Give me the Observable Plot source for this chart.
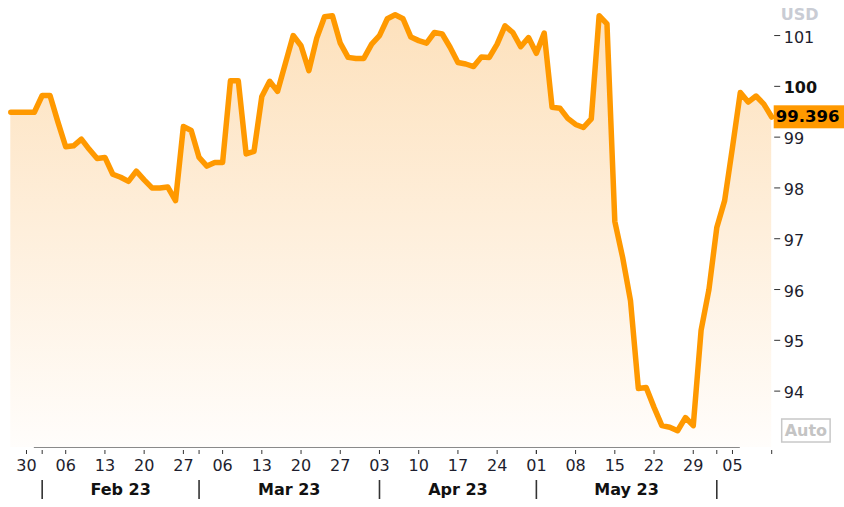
<!DOCTYPE html>
<html><head><meta charset="utf-8">
<script src="https://cdn.jsdelivr.net/npm/d3@7"></script>
<script src="https://cdn.jsdelivr.net/npm/@observablehq/plot@0.6"></script>
<style>html,body{margin:0;padding:0;background:#fff;} svg{display:block;}</style>
</head><body><div id="chart"></div>
<script>
// ---- data ----
const firstDay = "2023-01-26";
const lastDay = "2023-06-12";
const values = [
  99.49, 99.49, 99.49, 99.49, 99.82, 99.82, 99.30, 98.81, 98.83, 98.96,
  98.76, 98.58, 98.60, 98.27, 98.21, 98.13, 98.33, 98.16, 98.00, 98.00,
  98.02, 97.75, 99.21, 99.13, 98.60, 98.43, 98.50, 98.50, 100.11, 100.11,
  98.67, 98.72, 99.80, 100.10, 99.90, 100.45, 101.00, 100.80, 100.31, 100.95,
  101.37, 101.39, 100.85, 100.57, 100.55, 100.55, 100.83, 101.00, 101.33, 101.41,
  101.33, 100.97, 100.90, 100.85, 101.06, 101.03, 100.77, 100.47, 100.44, 100.39,
  100.58, 100.57, 100.83, 101.19, 101.06, 100.78, 100.96, 100.65, 101.05, 99.59,
  99.57, 99.37, 99.25, 99.19, 99.36, 101.39, 101.23, 97.34, 96.63, 95.78,
  94.05, 94.07, 93.68, 93.32, 93.29, 93.22, 93.48, 93.32, 95.20, 96.00,
  97.22, 97.75, 98.80, 99.88, 99.69, 99.81, 99.65, 99.396
];
const dayTicks = ["2023-01-30","2023-02-06","2023-02-13","2023-02-20","2023-02-27",
  "2023-03-06","2023-03-13","2023-03-20","2023-03-27","2023-04-03","2023-04-10",
  "2023-04-17","2023-04-24","2023-05-01","2023-05-08","2023-05-15","2023-05-22",
  "2023-05-29","2023-06-05"];
const monthStarts = ["2023-02-01","2023-03-01","2023-04-03","2023-05-01","2023-06-01"];
const monthLabels = ["Feb 23","Mar 23","Apr 23","May 23"];
const yTicks = [94, 95, 96, 97, 98, 99, 101];
const yBoldTicks = [100];
const yDomain = [92.89, 101.69];
const unitLabel = "USD";
const lastLabel = "99.396";
const autoLabel = "Auto";

// ---- derived ----
const days = d3.utcDays(new Date(firstDay), d3.utcDay.offset(new Date(lastDay), 1))
  .filter(d => d.getUTCDay() !== 0 && d.getUTCDay() !== 6);
const idx = s => days.findIndex(d => +d === +new Date(s));
const data = days.map((d, i) => ({i, date: d, v: values[i]}));
const last = data[data.length - 1];
const dayIdx = dayTicks.map(idx);
const monthIdx = monthStarts.map(idx);
const monthMid = monthLabels.map((_, k) => (monthIdx[k] + monthIdx[k + 1]) / 2);
const monthMap = new Map(monthMid.map((m, k) => [m, monthLabels[k]]));
const fmtDay = d3.utcFormat("%d");

const font = "DejaVu Sans, Verdana, sans-serif";
const W = 844, H = 507;

const chart = Plot.plot({
  width: W, height: H,
  marginTop: 0, marginBottom: 60, marginLeft: 10.3, marginRight: 72.8,
  style: {fontFamily: font, fontSize: "16px", background: "#fff", overflow: "visible"},
  x: {type: "linear", domain: [0, data.length - 1], axis: null},
  y: {domain: yDomain, axis: null},
  marks: [
    Plot.areaY(data, {x: "i", y1: () => yDomain[0], y2: "v", fill: "url(#fillGrad)"}),
    Plot.lineY(data, {x: "i", y: "v", stroke: "#ff9900", strokeWidth: 5.5, strokeLinejoin: "round", strokeLinecap: "round"}),
    // bottom axis line
    Plot.ruleY([yDomain[0]], {x1: idx("2023-01-31"), x2: idx("2023-06-06"), stroke: "#8a8a8a", strokeWidth: 1.2}),
    // day ticks + labels
    Plot.axisX({anchor: "bottom", ticks: dayIdx, tickSize: 4, tickPadding: 5, dy: 3,
      tickFormat: i => fmtDay(days[i]), fill: "#1e1e2e", stroke: "#333", label: null}),
    // minor ticks at month starts and last point
    Plot.axisX({anchor: "bottom", ticks: [...monthIdx, last.i], tickSize: 4, dy: 3,
      tickFormat: () => "", stroke: "#333", label: null}),
    // month separators
    Plot.axisX({anchor: "bottom", ticks: monthIdx, tickSize: 19, dy: 33,
      tickFormat: () => "", stroke: "#333", strokeWidth: 1.6, label: null}),
    // month labels
    Plot.axisX({anchor: "bottom", ticks: monthMid, tickSize: 0, tickPadding: 0, dy: 36,
      tickFormat: d => monthMap.get(d), fontWeight: "bold", fill: "#111", label: null}),
    // y ticks
    Plot.axisY({anchor: "right", ticks: [...yTicks, ...yBoldTicks], tickSize: 6, dx: 2,
      tickFormat: () => "", stroke: "#333", label: null}),
    Plot.axisY({anchor: "right", ticks: yTicks, tickSize: 0, tickPadding: 12, dy: 2,
      fill: "#1e1e2e", label: null}),
    Plot.axisY({anchor: "right", ticks: yBoldTicks, tickSize: 0, tickPadding: 12, dy: 2,
      fill: "#111", fontWeight: "bold", label: null}),
    // last value label
    Plot.text([last], {x: "i", y: "v", text: () => lastLabel, textAnchor: "start", dx: 4,
      fill: "#000", fontWeight: "bold", fontSize: 16.5}),
    // unit and auto
    Plot.text([unitLabel], {frameAnchor: "top-right", textAnchor: "start", dx: 9, dy: 8,
      fill: "#c9ccd4", fontWeight: "bold", fontSize: 16}),
    Plot.text([autoLabel], {frameAnchor: "bottom-right", textAnchor: "start", dx: 13, dy: -11.5,
      fill: "#c4c4c4", fontWeight: "bold", fontSize: 16})
  ]
});

document.getElementById("chart").appendChild(chart);

// gradient defs
const svg = d3.select(chart);
const defs = svg.insert("defs", ":first-child");
const g = defs.append("linearGradient").attr("id", "fillGrad")
  .attr("gradientUnits", "userSpaceOnUse").attr("x1", 0).attr("x2", 0).attr("y1", 0).attr("y2", H - 60);
g.append("stop").attr("offset", "0%").attr("stop-color", "#fde0ba");
g.append("stop").attr("offset", "100%").attr("stop-color", "#fffdfb");

// label boxes (absolute coordinates)
const sr = chart.getBoundingClientRect();
const boxes = [];
svg.selectAll("text").each(function() {
  const t = this.textContent;
  if (t === lastLabel || t === autoLabel) {
    const r = this.getBoundingClientRect();
    let mark = this;
    while (mark.parentNode && mark.parentNode !== chart) mark = mark.parentNode;
    boxes.push({t, x: r.left - sr.left, y: r.top - sr.top, w: r.width, h: r.height, mark});
  }
});
for (const b of boxes) {
  const cy = b.y + b.h / 2;
  if (b.t === lastLabel) {
    svg.insert("rect", () => b.mark)
      .attr("x", b.x - 2).attr("y", cy - 11.5)
      .attr("width", W - (b.x - 2)).attr("height", 23).attr("fill", "#ff9900");
  } else {
    svg.insert("rect", () => b.mark)
      .attr("x", b.x - 3).attr("y", cy - 11.5)
      .attr("width", b.w + 6).attr("height", 23)
      .attr("fill", "#fff").attr("stroke", "#c8c8c8").attr("stroke-width", 1.5);
  }
}
</script>
</body></html>
